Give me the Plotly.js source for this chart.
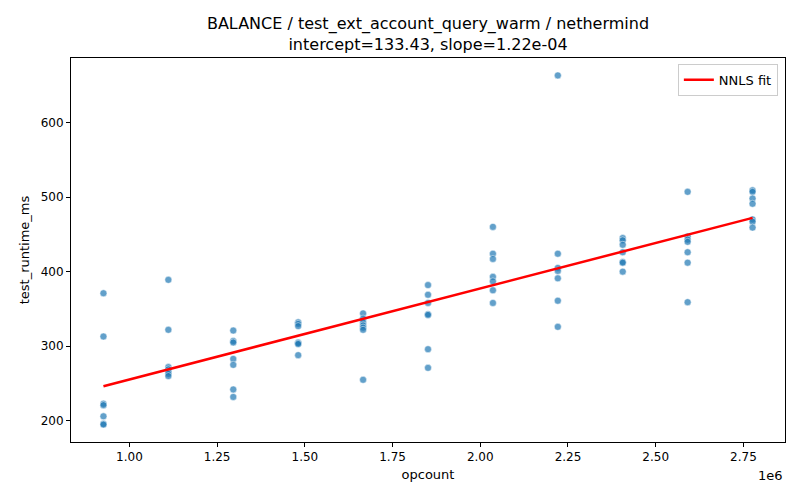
<!DOCTYPE html>
<html>
<head>
<meta charset="utf-8">
<script src="https://cdn.plot.ly/plotly-3.0.1.min.js"></script>
<style>
  body { margin: 0; background: #fff; }
  #chart { width: 800px; height: 500px; }
</style>
</head>
<body>
<div id="chart"></div>
<script>
//opcount columns (one per benchmark size)
var opcounts = [926000, 1111000, 1296000, 1481000, 1666000, 1851000,
                2036000, 2221000, 2406000, 2591000, 2776000];

//runtimes read per column, ms
var runtimes = [
  [371, 313, 223, 221, 206, 196, 195],
  [389, 322, 272, 269, 266, 263, 260],
  [321, 307, 305, 283, 275, 242, 232],
  [332, 330, 327, 305, 304, 303, 288],
  [344, 337, 332, 328, 325, 322, 255],
  [382, 369, 358, 343, 342, 296, 271],
  [460, 424, 417, 393, 387, 375, 358],
  [663, 424, 405, 401, 391, 361, 326],
  [445, 442, 436, 426, 413, 412, 400],
  [507, 447, 443, 440, 426, 412, 359],
  [509, 507, 498, 491, 470, 467, 459]
];

//fit from the title
var intercept = 133.43;
var slope = 1.22e-4;

var xTicks = [1.0e6, 1.25e6, 1.5e6, 1.75e6, 2.0e6, 2.25e6, 2.5e6, 2.75e6];
var xTickText = ["1.00", "1.25", "1.50", "1.75", "2.00", "2.25", "2.50", "2.75"];
var yTicks = [200, 300, 400, 500, 600];

//flatten scatter points
var px = [], py = [];
for (var i = 0; i < opcounts.length; i++) {
  for (var j = 0; j < runtimes[i].length; j++) {
    px.push(opcounts[i]);
    py.push(runtimes[i][j]);
  }
}

var xMin = Math.min.apply(null, opcounts);
var xMax = Math.max.apply(null, opcounts);
var fitX = [xMin, xMax];
var fitY = fitX.map(function (x) { return intercept + slope * x; });

//matplotlib style 5% margins
var xPad = (xMax - xMin) * 0.05;
var yMin = Math.min.apply(null, py), yMax = Math.max.apply(null, py);
var yPad = (yMax - yMin) * 0.05;

var font = "DejaVu Sans, sans-serif";

var data = [
  {
    x: px,
    y: py,
    mode: "markers",
    type: "scatter",
    showlegend: false,
    marker: {
      size: 7,
      color: "rgba(31,119,180,0.7)",
      line: { color: "rgba(255,255,255,0.8)", width: 0.6 }
    },
    hoverinfo: "x+y"
  },
  {
    x: fitX,
    y: fitY,
    mode: "lines",
    type: "scatter",
    name: "NNLS fit",
    line: { color: "red", width: 2.5 }
  }
];

var axisStyle = {
  showline: true,
  mirror: true,
  linecolor: "black",
  linewidth: 1,
  ticks: "outside",
  ticklen: 4,
  tickcolor: "black",
  showgrid: false,
  zeroline: false,
  tickfont: { family: font, size: 12, color: "black" }
};

var layout = {
  width: 800,
  height: 500,
  paper_bgcolor: "white",
  plot_bgcolor: "white",
  font: { family: font, color: "black" },
  margin: { l: 71, r: 15, t: 58, b: 58 },
  title: {
    text: "BALANCE / test_ext_account_query_warm / nethermind<br>intercept=133.43, slope=1.22e-04",
    font: { family: font, size: 16, color: "black" },
    x: 0.5,
    xref: "paper",
    xanchor: "center",
    y: 1,
    yref: "paper",
    yanchor: "bottom",
    pad: { b: 29 }
  },
  xaxis: Object.assign({}, axisStyle, {
    range: [xMin - xPad, xMax + xPad],
    tickvals: xTicks,
    ticktext: xTickText,
    title: { text: "opcount", font: { family: font, size: 13 }, standoff: 6 }
  }),
  yaxis: Object.assign({}, axisStyle, {
    range: [yMin - yPad, yMax + yPad],
    tickvals: yTicks,
    title: { text: "test_runtime_ms", font: { family: font, size: 13 }, standoff: 8 }
  }),
  legend: {
    x: 0.99,
    y: 0.985,
    xanchor: "right",
    yanchor: "top",
    bgcolor: "rgba(255,255,255,0.8)",
    bordercolor: "#cccccc",
    borderwidth: 1,
    font: { family: font, size: 13 }
  },
  annotations: [
    {
      text: "1e6",
      xref: "paper",
      yref: "paper",
      x: 1,
      y: -0.062,
      xanchor: "right",
      yanchor: "top",
      showarrow: false,
      font: { family: font, size: 13 }
    }
  ]
};

Plotly.newPlot("chart", data, layout, { displayModeBar: false, staticPlot: true });
</script>
</body>
</html>
